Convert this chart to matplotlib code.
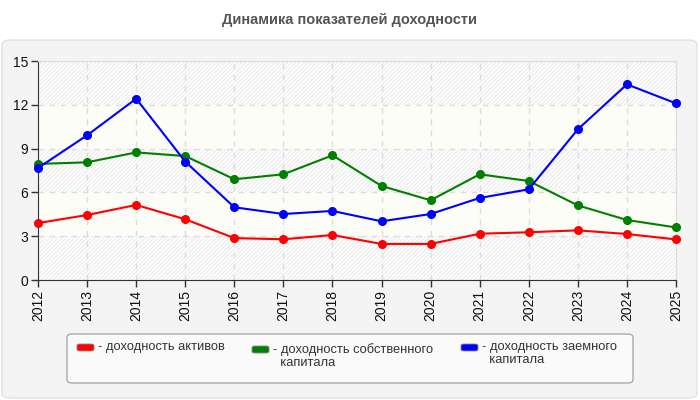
import matplotlib
matplotlib.use("Agg")
import matplotlib.pyplot as plt
from matplotlib.patches import FancyBboxPatch

plt.rcParams['font.family'] = ['Liberation Sans', 'DejaVu Sans']

# data
years = [2012, 2013, 2014, 2015, 2016, 2017, 2018, 2019, 2020, 2021, 2022, 2023, 2024, 2025]
assets = [3.9, 4.45, 5.14, 4.16, 2.87, 2.79, 3.08, 2.47, 2.47, 3.17, 3.27, 3.4, 3.15, 2.78]
equity = [7.95, 8.06, 8.74, 8.49, 6.9, 7.24, 8.54, 6.44, 5.46, 7.24, 6.78, 5.11, 4.11, 3.6]
borrowed = [7.67, 9.91, 12.42, 8.11, 4.98, 4.52, 4.73, 4.02, 4.52, 5.62, 6.21, 10.32, 13.4, 12.1]
y_ticks = [0, 3, 6, 9, 12, 15]

series = [
    (assets, 'red', '- доходность активов'),
    (equity, 'green', '- доходность собственного\n  капитала'),
    (borrowed, 'blue', '- доходность заемного\n  капитала'),
]

W, H = 700, 400
fig = plt.figure(figsize=(7, 4), dpi=100)
fig.patch.set_facecolor('white')

# outer gray panel
panel = FancyBboxPatch((2 / W, 2 / H), 695 / W, 358 / H, transform=fig.transFigure,
                       boxstyle='round,pad=0,rounding_size=0.012', facecolor='#f4f4f4',
                       edgecolor='#e2e2e2', linewidth=1, zorder=-5)
fig.patches.append(panel)

fig.text(0.5, 1 - 20 / H, 'Динамика показателей доходности', ha='center', va='center',
         fontsize=10.5, fontweight='bold', color='#555555')

ax = fig.add_axes([38 / W, 120 / H, 638 / W, 219 / H])
ax.set_zorder(2)
ax.set_facecolor('white')
ax.set_xlim(years[0], years[-1])
ax.set_ylim(0, 15)

# alternating bands
for i in range(len(y_ticks) - 1):
    lo, hi = y_ticks[i], y_ticks[i + 1]
    if i % 2 == 0:
        ax.axhspan(lo, hi, facecolor='white', edgecolor='#eeeeee', hatch='////////',
                   linewidth=0, zorder=0)
    else:
        ax.axhspan(lo, hi, facecolor='#fdfdf8', edgecolor='none', linewidth=0, zorder=0)

ax.grid(True, linestyle=(0, (4, 4)), color='#dcdcdc', linewidth=1, zorder=1)
ax.set_axisbelow(True)

for vals, col, lab in series:
    ax.plot(years, vals, color=col, linewidth=1.5, marker='o', markersize=5.5,
            zorder=3, clip_on=False)

ax.set_xticks(years)
ax.set_xticklabels([str(y) for y in years], rotation=90, fontsize=10, color='#111111')
ax.set_yticks(y_ticks)
ax.set_yticklabels([str(v) for v in y_ticks], fontsize=10, color='#111111')
ax.tick_params(axis='both', direction='out', length=5, width=1, color='#333333', pad=2)

for s in ['left', 'bottom']:
    ax.spines[s].set_color('#333333')
for s in ['top', 'right']:
    ax.spines[s].set_color('#dddddd')

# legend box
leg = FancyBboxPatch((67 / W, 1 - 383 / H), 566 / W, 49 / H, transform=fig.transFigure,
                     boxstyle='round,pad=0,rounding_size=0.008', facecolor='#fafafa',
                     edgecolor='#aaaaaa', linewidth=1, zorder=1)
fig.patches.append(leg)

sw_x = [77, 252, 461]
sw_y = [347.5, 349.5, 347.5]
for (vals, col, lab), sx, sy in zip(series, sw_x, sw_y):
    sw = FancyBboxPatch((sx / W, 1 - (sy + 3.5) / H), 17 / W, 7 / H, transform=fig.transFigure,
                        boxstyle='round,pad=0,rounding_size=0.004', facecolor=col,
                        edgecolor='#888888', linewidth=0.6, zorder=2)
    fig.patches.append(sw)
    fig.text((sx + 21) / W, 1 - (sy - 6.5) / H, lab, ha='left', va='top', fontsize=9.3,
             color='#333333', linespacing=1.1)

fig.savefig('out.png', dpi=100, facecolor=fig.get_facecolor())
